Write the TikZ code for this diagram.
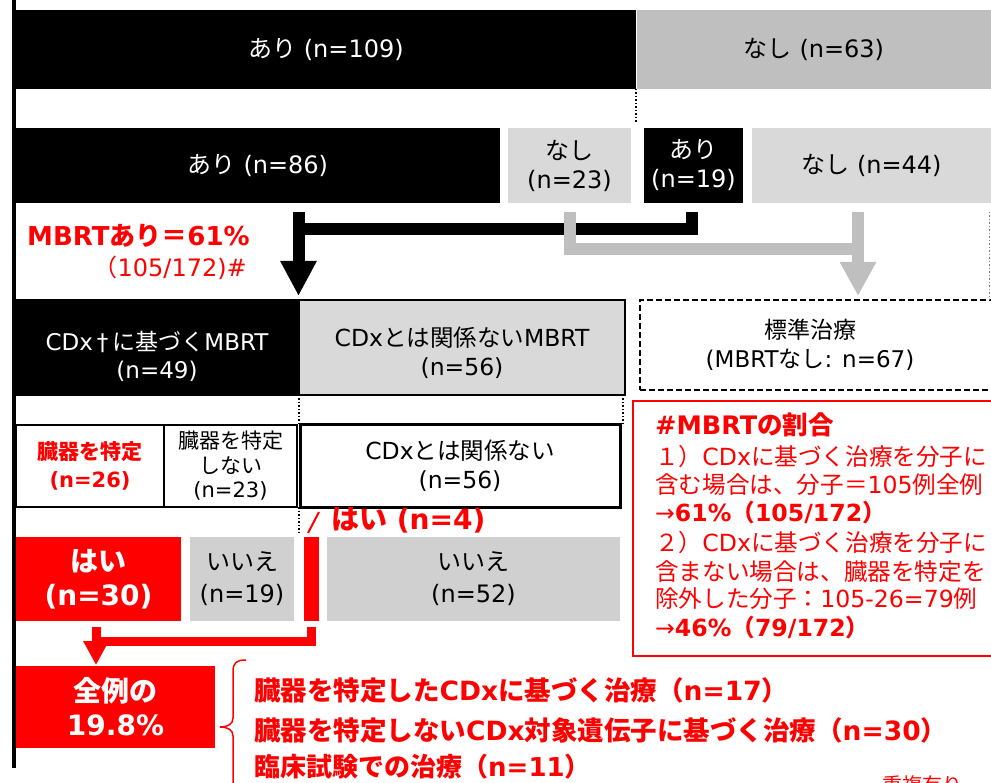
\documentclass[tikz,border=0pt]{standalone}
\usepackage{fontspec}
\setmainfont{DejaVu Sans}
\newfontfamily\jpfont{Noto Sans CJK JP}
\usetikzlibrary{arrows.meta,calc}
\XeTeXinterchartokenstate=1
\newXeTeXintercharclass\JPclass
\newcount\jpc
\def\setjprange#1#2{\jpc=#1\relax\loop\XeTeXcharclass\jpc=\JPclass\ifnum\jpc<#2\advance\jpc by 1\repeat}
\setjprange{"3000}{"30FF}
\setjprange{"4E00}{"9FFF}
\setjprange{"FF00}{"FFEF}
\XeTeXinterchartoks 0 \JPclass = {\jpfont}
\XeTeXinterchartoks 4095 \JPclass = {\jpfont}
\XeTeXinterchartoks \JPclass 0 = {\rmfamily}
\XeTeXinterchartoks \JPclass 4095 = {\rmfamily}
\definecolor{gA}{HTML}{BFBFBF}
\definecolor{gB}{HTML}{D9D9D9}
\definecolor{gC}{HTML}{D0D0D0}
\definecolor{rd}{HTML}{FF0000}
\newcommand\mybox[7]{\node[#2, minimum width={(#5-#3)*1pt}, minimum height={(#6-#4)*1pt}] (#1) at ({(#3+#5)/2},{(#4+#6)/2}) {#7};}
\newcommand\lowr[1]{\rule{0pt}{#1}}
\begin{document}
\begin{tikzpicture}[x=1pt,y=-1pt,
  base/.style={inner sep=0pt, outer sep=0pt, align=center, font=\fontsize{24}{29}\selectfont},
  blk/.style={base, fill=black, text=white},
  gryA/.style={base, fill=gA},
  gryB/.style={base, fill=gB},
  gryC/.style={base, fill=gC},
  wbox/.style={base, fill=white, draw=black, line width=2.5pt},
  redbox/.style={base, fill=rd, text=white, font=\fontsize{28}{34}\selectfont\bfseries},
  dotline/.style={line width=1.5pt, dash pattern=on 1.5pt off 2pt},
  blkline/.style={line width=12pt, black},
  gline/.style={line width=12pt, gA},
  rline/.style={line width=9pt, rd},
  redtxt/.style={inner sep=0pt, text=rd, anchor=west},
]
\useasboundingbox (0,0) rectangle (991,783);
\fill[white] (0,0) rectangle (991,783);

% Row 1
\mybox{r1a}{blk}{16}{10}{636}{89}{あり (n=109)}
\mybox{r1b}{gryA}{637}{10}{991}{89}{なし (n=63)}
\draw[dotline] (r1a.south east) -- ++(0,33);

% Row 2
\mybox{r2a}{blk}{16}{128}{500}{203}{あり (n=86)}
\mybox{r2b}{gryB}{508}{128}{631}{203}{なし\\(n=23)}
\mybox{r2c}{blk}{644}{128}{743}{203}{あり\\(n=19)}
\mybox{r2d}{gryB}{752}{128}{991}{203}{なし (n=44)}

% Row 3
\mybox{r3a}{blk,draw=black,line width=2pt,font=\fontsize{23}{28}\selectfont}{16}{300}{298}{395}{\lowr{38pt}CDx\hspace{4pt}†\hspace{4pt}に基づくMBRT\\(n=49)}
\mybox{r3b}{gryB,draw=black,line width=2pt,font=\fontsize{23.5}{29}\selectfont}{299}{300}{625}{395}{\lowr{31pt}CDxとは関係ないMBRT\\(n=56)}
\mybox{std}{base,draw=black,line width=2pt,dash pattern=on 6pt off 3pt,font=\fontsize{23}{29}\selectfont}{640}{300}{1002}{390}{\hspace*{-22pt}標準治療\\\hspace*{-22pt}(MBRTなし: n=67)}

% arrows from row 2
\coordinate (b1) at (298.5,212);
\coordinate (b2) at (298.5,296);
\coordinate (b3) at (691.5,212);
\draw[blkline] (b3) |- ($(b1)!0.2!(b2)$);
\draw[blkline,-{Triangle[width=34pt,length=35pt]}] (b1) -- (b2);
\coordinate (g1) at (570,212);
\coordinate (g2) at (858,212);
\coordinate (g3) at (858,296);
\draw[gline] (g1) |- ($(g2)!0.44!(g3)$);
\draw[gline,-{Triangle[width=34pt,length=34pt]}] (g2) -- (g3);
\draw[gray, line width=1pt, dash pattern=on 1.5pt off 2pt] (989,212) -- (989,300);

% labels
\node[redtxt, font=\fontsize{26}{30}\selectfont\bfseries] (mb) at (27,236) {MBRTあり＝61\%};
\node[inner sep=0pt, text=rd, anchor=east, font=\fontsize{24}{29}\selectfont] (mb2) at (247,268) {（105/172)\#};

% Row 4
\mybox{r4a}{wbox,text=rd,font=\fontsize{21}{28}\selectfont\bfseries}{16}{425}{164}{507}{臓器を特定\\(n=26)}
\mybox{r4b}{wbox,font=\fontsize{21}{24.5}\selectfont}{164}{425}{297}{507}{臓器を特定\\しない\\(n=23)}
\mybox{r4c}{wbox,line width=3pt,font=\fontsize{23.5}{29}\selectfont}{300}{425}{620}{507}{CDxとは関係ない\\(n=56)}

% dotted guides
\draw[dotline] (r3b.south west) -- (r3b.south west |- r4c.north);
\draw[dotline] ($(r3b.south east)+(-2,0)$) -- ($(r3b.south east |- r4c.north)+(-2,0)$);
\draw[dotline] ($(r4c.south west)+(-1,0)$) -- ++(0,26);

% Row 5
\mybox{r5a}{redbox}{16}{537}{181}{621}{はい\\(n=30)}
\mybox{r5b}{gryC,font=\fontsize{24}{32}\selectfont}{190}{537}{294}{621}{いいえ\\(n=19)}
\mybox{r5c}{base,fill=rd}{304}{537}{319}{621}{}
\mybox{r5d}{gryC,font=\fontsize{24}{32}\selectfont}{327}{537}{620}{621}{いいえ\\(n=52)}
\node[redtxt, font=\fontsize{28}{34}\selectfont\bfseries] (yes4) at (331,520) {はい (n=4)};
\coordinate (s1) at (319,512);
\draw[rd, line width=2pt] (s1) -- ($(r5c.north)+(-3.5,-4)$);

% red arrow
\coordinate (h1) at (311.5,627);
\coordinate (h2) at (96,627);
\coordinate (h3) at (96,665);
\draw[rline] (h1) |- ($(h2)!0.38!(h3)$);
\draw[rline,-{Triangle[width=24pt,length=24pt]}] (h2) -- (h3);

% Row 6
\mybox{r6}{redbox}{16}{666}{215}{748}{全例の\\19.8\%}

% brace
\draw[rd, line width=1.5pt] (246,660) .. controls (237,660) and (233,662) .. (233,672) -- (233,718) .. controls (233,724) and (228,727) .. (220,727) .. controls (228,727) and (233,730) .. (233,736) -- (233,790);
\node[redtxt, font=\fontsize{26.5}{30}\selectfont\bfseries] (t1) at (254,690) {臓器を特定したCDxに基づく治療（n=17）};
\node[redtxt, font=\fontsize{26.5}{30}\selectfont\bfseries] (t2) at (254,730) {臓器を特定しないCDx対象遺伝子に基づく治療（n=30）};
\node[redtxt, font=\fontsize{26}{30}\selectfont\bfseries] (t3) at (254,767) {臨床試験での治療（n=11）};
\node[inner sep=0pt, text=rd, font=\fontsize{20}{24}\selectfont] (dup) at (922,785) {重複有り};

% red note box
\draw[rd, line width=2pt] (633,401) rectangle (1002,656);
\node[redtxt, font=\fontsize{25.5}{29}\selectfont\bfseries] (n1) at (655,425) {\#MBRTの割合};
\node[redtxt, font=\fontsize{23.6}{29}\selectfont] (n2) at (655,457) {１）CDxに基づく治療を分子に};
\node[redtxt, font=\fontsize{23.6}{29}\selectfont] (n3) at (655,485) {含む場合は、分子＝105例全例};
\node[redtxt, font=\fontsize{23.6}{29}\selectfont] (n4) at (655,513) {→{\bfseries 61\%（105/172）}};
\node[redtxt, font=\fontsize{23.6}{29}\selectfont] (n5) at (655,543) {２）CDxに基づく治療を分子に};
\node[redtxt, font=\fontsize{23.6}{29}\selectfont] (n6) at (655,572) {含まない場合は、臓器を特定を};
\node[redtxt, font=\fontsize{23.6}{29}\selectfont] (n7) at (655,599) {除外した分子：105-26=79例};
\node[redtxt, font=\fontsize{23.6}{29}\selectfont] (n8) at (655,628) {→{\bfseries 46\%（79/172）}};

% left axis line
\draw[line width=4pt] (14,0) -- (14,768);
\end{tikzpicture}
\end{document}
